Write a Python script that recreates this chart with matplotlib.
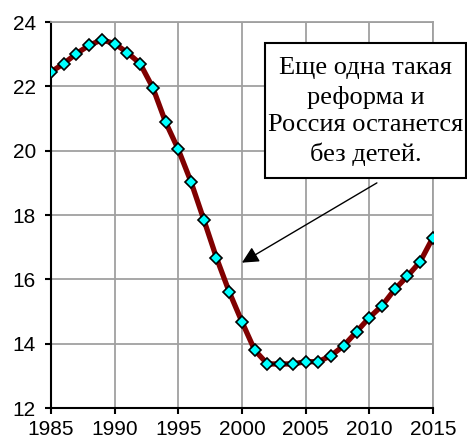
import matplotlib.pyplot as plt
import matplotlib.patches as patches
import numpy as np

years = list(range(1985, 2016))
values = [22.45, 22.71, 23.02, 23.28, 23.45, 23.33, 23.05, 22.71, 21.96, 20.89,
          20.04, 19.03, 17.86, 16.67, 15.61, 14.68, 13.80, 13.37, 13.37, 13.37,
          13.44, 13.44, 13.63, 13.94, 14.37, 14.81, 15.18, 15.69, 16.10, 16.55,
          17.30]
xticks = [1985, 1990, 1995, 2000, 2005, 2010, 2015]
yticks = [12, 14, 16, 18, 20, 22, 24]
note = "Еще одна такая\nреформа и\nРоссия останется\nбез детей."

plt.rcParams['font.family'] = ['Liberation Sans', 'DejaVu Sans']

fig = plt.figure(figsize=(4.67, 4.42), dpi=100)
ax = fig.add_axes([0.1092, 0.0769, 0.8178, 0.8731])

ax.plot(years, values, color="#800000", lw=3.8, solid_joinstyle='round',
        marker='D', ms=6, mfc="#00ffff", mec="black", mew=1.2, zorder=3)

ax.set_xlim(1985, 2015)
ax.set_ylim(12, 24)
ax.set_xticks(xticks)
ax.set_yticks(yticks)
ax.grid(True, color="#a0a0a0", lw=1.3)
ax.set_axisbelow(True)
for s in ['top', 'right']:
    ax.spines[s].set_color("#a0a0a0")
    ax.spines[s].set_linewidth(1.3)
for s in ['left', 'bottom']:
    ax.spines[s].set_linewidth(1.5)
ax.tick_params(direction='out', length=4.3, width=1.5, labelsize=15)
ax.tick_params(axis='x', pad=4.5)
ax.tick_params(axis='y', pad=6.5)

# arrow to 2000
ax.annotate('', xy=(2000.0, 16.52), xytext=(2010.6, 19.0),
            arrowprops=dict(arrowstyle='-|>', color='black', lw=1.0,
                            mutation_scale=25, shrinkA=0, shrinkB=0))

# text box
rect = patches.Rectangle((0.5675, 0.5973), 0.4304, 0.3054, transform=fig.transFigure,
                         facecolor='white', edgecolor='black', lw=1.5, zorder=5)
fig.patches.append(rect)
fig.text(0.7827, 0.747, note, ha='center', va='center', fontsize=19,
         family=['Liberation Serif', 'DejaVu Serif'], linespacing=1.35, zorder=6)

fig.savefig("out.png", dpi=100)
